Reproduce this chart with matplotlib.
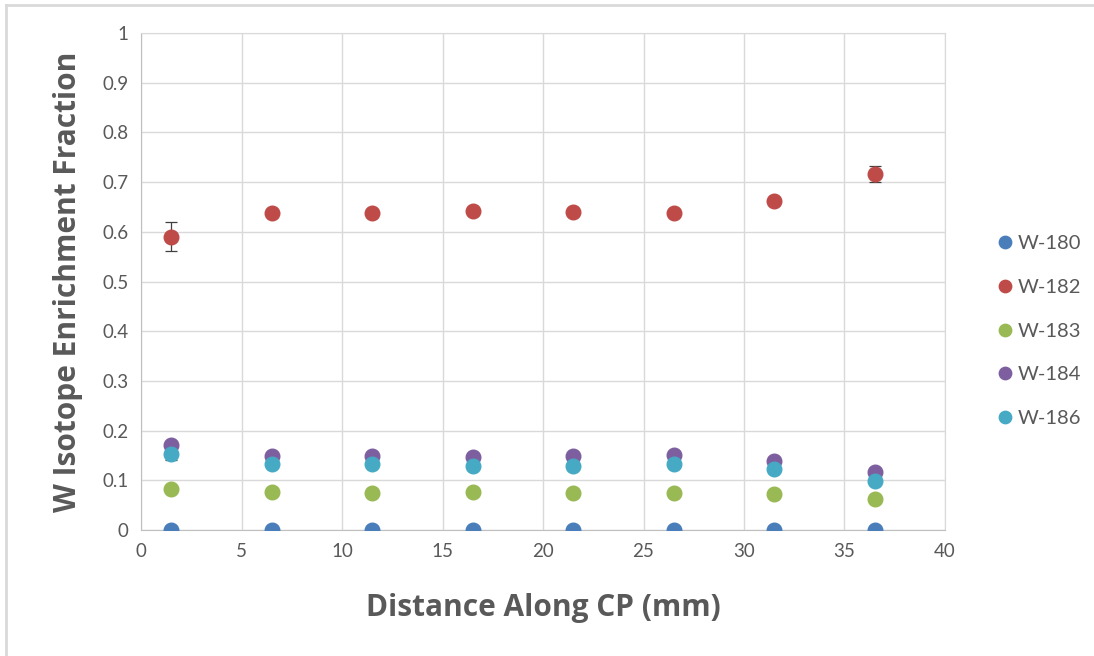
import matplotlib.pyplot as plt
from matplotlib.lines import Line2D

plt.rcParams['font.family'] = ['Lato', 'DejaVu Sans']

# distance along CP (mm)
distance = [1.5, 6.5, 11.5, 16.5, 21.5, 26.5, 31.5, 36.5]

# enrichment fraction per isotope
w180 = [0.0, 0.0, 0.0, 0.0, 0.0, 0.0, 0.0, 0.0]
w182 = [0.590, 0.637, 0.637, 0.642, 0.640, 0.637, 0.661, 0.716]
w183 = [0.083, 0.077, 0.075, 0.077, 0.075, 0.075, 0.072, 0.062]
w184 = [0.171, 0.149, 0.149, 0.146, 0.149, 0.151, 0.139, 0.117]
w186 = [0.152, 0.132, 0.132, 0.128, 0.129, 0.132, 0.122, 0.099]

# standard deviations
w180_err = [0.0, 0.0, 0.0, 0.0, 0.0, 0.0, 0.0, 0.0]
w182_err = [0.029, 0.003, 0.003, 0.004, 0.003, 0.006, 0.008, 0.016]
w183_err = [0.004, 0.002, 0.002, 0.002, 0.002, 0.002, 0.002, 0.002]
w184_err = [0.006, 0.003, 0.003, 0.003, 0.003, 0.003, 0.003, 0.003]
w186_err = [0.012, 0.003, 0.003, 0.003, 0.003, 0.003, 0.003, 0.003]

labels = ['W-180', 'W-182', 'W-183', 'W-184', 'W-186']
series = [w180, w182, w183, w184, w186]
errors = [w180_err, w182_err, w183_err, w184_err, w186_err]
colors = ['#4A7EBB', '#BE4B48', '#98B954', '#7D5FA0', '#46AAC5']

fig = plt.figure(figsize=(10.94, 6.56), dpi=100)
ax = fig.add_axes([0.1289, 0.192, 0.7349, 0.7577])

for i in range(len(series)):
    ax.errorbar(distance, series[i], yerr=errors[i], fmt='none',
                ecolor='#404040', elinewidth=0.9, capsize=4.5, capthick=0.9,
                zorder=2)
    ax.plot(distance, series[i], 'o', color=colors[i], markersize=10.5,
            label=labels[i], zorder=3 + i)

ax.set_xlim(0, 40)
ax.set_ylim(0, 1)
ax.set_xticks(range(0, 41, 5))
ax.set_yticks([i / 10 for i in range(11)])
ax.set_yticklabels(['0', '0.1', '0.2', '0.3', '0.4', '0.5', '0.6', '0.7',
                    '0.8', '0.9', '1'])
ax.grid(True, color='#D9D9D9', linewidth=1)
ax.set_axisbelow(True)
ax.tick_params(length=0, labelsize=13.5, labelcolor='#595959', pad=9)
for side in ['top', 'right']:
    ax.spines[side].set_color('#D9D9D9')
for side in ['left', 'bottom']:
    ax.spines[side].set_color('#BFBFBF')

ax.set_xlabel('Distance Along CP (mm)', fontsize=21.5, fontweight='bold',
              family=['Open Sans', 'DejaVu Sans'], color='#595959',
              labelpad=24)
ax.set_ylabel('W Isotope Enrichment Fraction', fontsize=21.5,
              fontweight='bold', family=['Open Sans', 'DejaVu Sans'],
              color='#595959', labelpad=14)

ax.legend(loc='center left', bbox_to_anchor=(1.032, 0.40), frameon=False,
          fontsize=14.5, labelcolor='#595959', handletextpad=-0.15,
          handlelength=1.6, labelspacing=1.32, markerscale=0.85)

# chart area border
fig.add_artist(Line2D([0.0055, 0.0055], [0, 0.993], color='#D9D9D9', lw=2))
fig.add_artist(Line2D([0.0055, 1], [0.993, 0.993], color='#D9D9D9', lw=2))

fig.savefig('out.png', dpi=100)
